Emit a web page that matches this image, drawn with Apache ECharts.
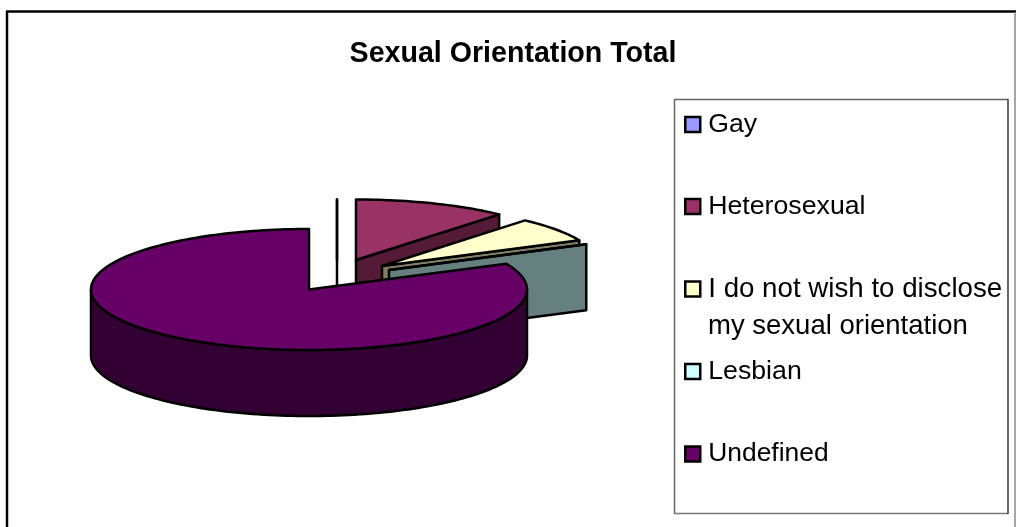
<!DOCTYPE html>
<html><head><meta charset="utf-8">
<style>html,body{margin:0;padding:0;background:#fff}#c{width:1016px;height:527px}</style>
<script src="https://cdn.jsdelivr.net/npm/echarts@6/dist/echarts.min.js"></script>
</head><body><div id="c"></div>
<script>
const chartTitle = 'Sexual Orientation Total';
const categories = ['Gay', 'Heterosexual', 'I do not wish to disclose', 'Lesbian', 'Undefined'];
const values = [0, 11.4, 6.6, 0, 82.0];
const secondLine = 'my sexual orientation';

// styling, kept apart from the data
const topColors = ['#9999FF', '#993366', '#FFFFCC', '#CCFFFF', '#660066'];
const sideColors = ['#4D4D80', '#551A35', '#808066', '#668080', '#330033'];
const centers = [[337, 260], [356, 260], [382, 266], [389, 270], [309, 289.5]];
const legendTops = [111, 193, 275, 358, 441];
const legendFontSizes = [26.7, 26.7, 27.7, 26.7, 26.4];
const RX = 218, RY = 60.5, DEPTH = 66, STROKE = 2.5;
const FONT = '"Liberation Sans", Arial, sans-serif';

const total = values.reduce((a, b) => a + b, 0);
const pt = (c, deg, dy) => {
  const r = deg * Math.PI / 180;
  return [c[0] + RX * Math.sin(r), c[1] - RY * Math.cos(r) + (dy || 0)];
};
function arc(c, a0, a1, dy) {
  const out = [], n = Math.max(1, Math.ceil(Math.abs(a1 - a0) / 1.5));
  for (let i = 0; i <= n; i++) out.push(pt(c, a0 + (a1 - a0) * i / n, dy));
  return out;
}
function makeRender(idx) {
  let start = 0;
  for (let i = 0; i < idx; i++) start += values[i];
  return function (params, api) {
    const a0 = start / total * 360;
    const a1 = (start + api.value(0)) / total * 360;
    const c = centers[idx];
    const style = { stroke: '#000', lineWidth: STROKE, lineJoin: 'round' };
    const children = [];
    const poly = (points, fill) => children.push({
      type: 'polygon', shape: { points }, style: Object.assign({ fill }, style)
    });
    if (a1 < 180) {
      poly([c, pt(c, a1), pt(c, a1, DEPTH), [c[0], c[1] + DEPTH]], sideColors[idx]);
    }
    const w0 = Math.max(a0, 90), w1 = Math.min(a1, 270);
    if (w1 > w0) {
      poly(arc(c, w0, w1).concat(arc(c, w1, w0, DEPTH)), sideColors[idx]);
    }
    poly([c].concat(arc(c, a0, a1)), topColors[idx]);
    return { type: 'group', children };
  };
}
const series = categories.map((name, i) => ({
  type: 'custom', name, coordinateSystem: 'none', silent: true, z: i + 2,
  itemStyle: { color: topColors[i] },
  renderItem: makeRender(i),
  data: [[values[i]]],
  animation: false
}));
const legends = categories.map((name, i) => ({
  data: [name], left: 684, top: legendTops[i], orient: 'vertical', padding: 0,
  icon: 'rect', itemWidth: 15, itemHeight: 15, itemGap: 0, selectedMode: false,
  itemStyle: { borderColor: '#000', borderWidth: 2.5 },
  textStyle: { fontFamily: FONT, fontSize: legendFontSizes[i], color: '#000', padding: [0, 0, 4, 3] }
}));
const line = (x1, y1, x2, y2, stroke, lineWidth) => ({
  type: 'line', z: 1, silent: true, shape: { x1, y1, x2, y2 }, style: { stroke, lineWidth }
});
const chart = echarts.init(document.getElementById('c'), null, { renderer: 'canvas' });
chart.setOption({
  animation: false,
  backgroundColor: '#fff',
  title: { text: chartTitle, left: 508, top: 35, textAlign: 'center',
    textStyle: { fontFamily: FONT, fontWeight: 'bold', fontSize: 28.6, color: '#000' } },
  legend: legends,
  tooltip: { show: false },
  series,
  graphic: [
    line(6, 11.5, 1016, 11.5, '#000', 2.5),
    line(7, 11, 7, 527, '#000', 2.5),
    line(1015, 12, 1015, 527, '#888', 1.5),
    line(674.5, 99.5, 1008, 99.5, '#666', 1.5),
    line(674.5, 99, 674.5, 514, '#666', 1.5),
    line(674, 513.5, 1008, 513.5, '#777', 1.5),
    line(1008, 99, 1008, 514, '#333', 1.5),
    { type: 'text', z: 3, silent: true, style: { x: 708, y: 326, text: secondLine, fill: '#000',
      verticalAlign: 'middle', font: '27.5px ' + FONT } }
  ]
});
</script></body></html>
